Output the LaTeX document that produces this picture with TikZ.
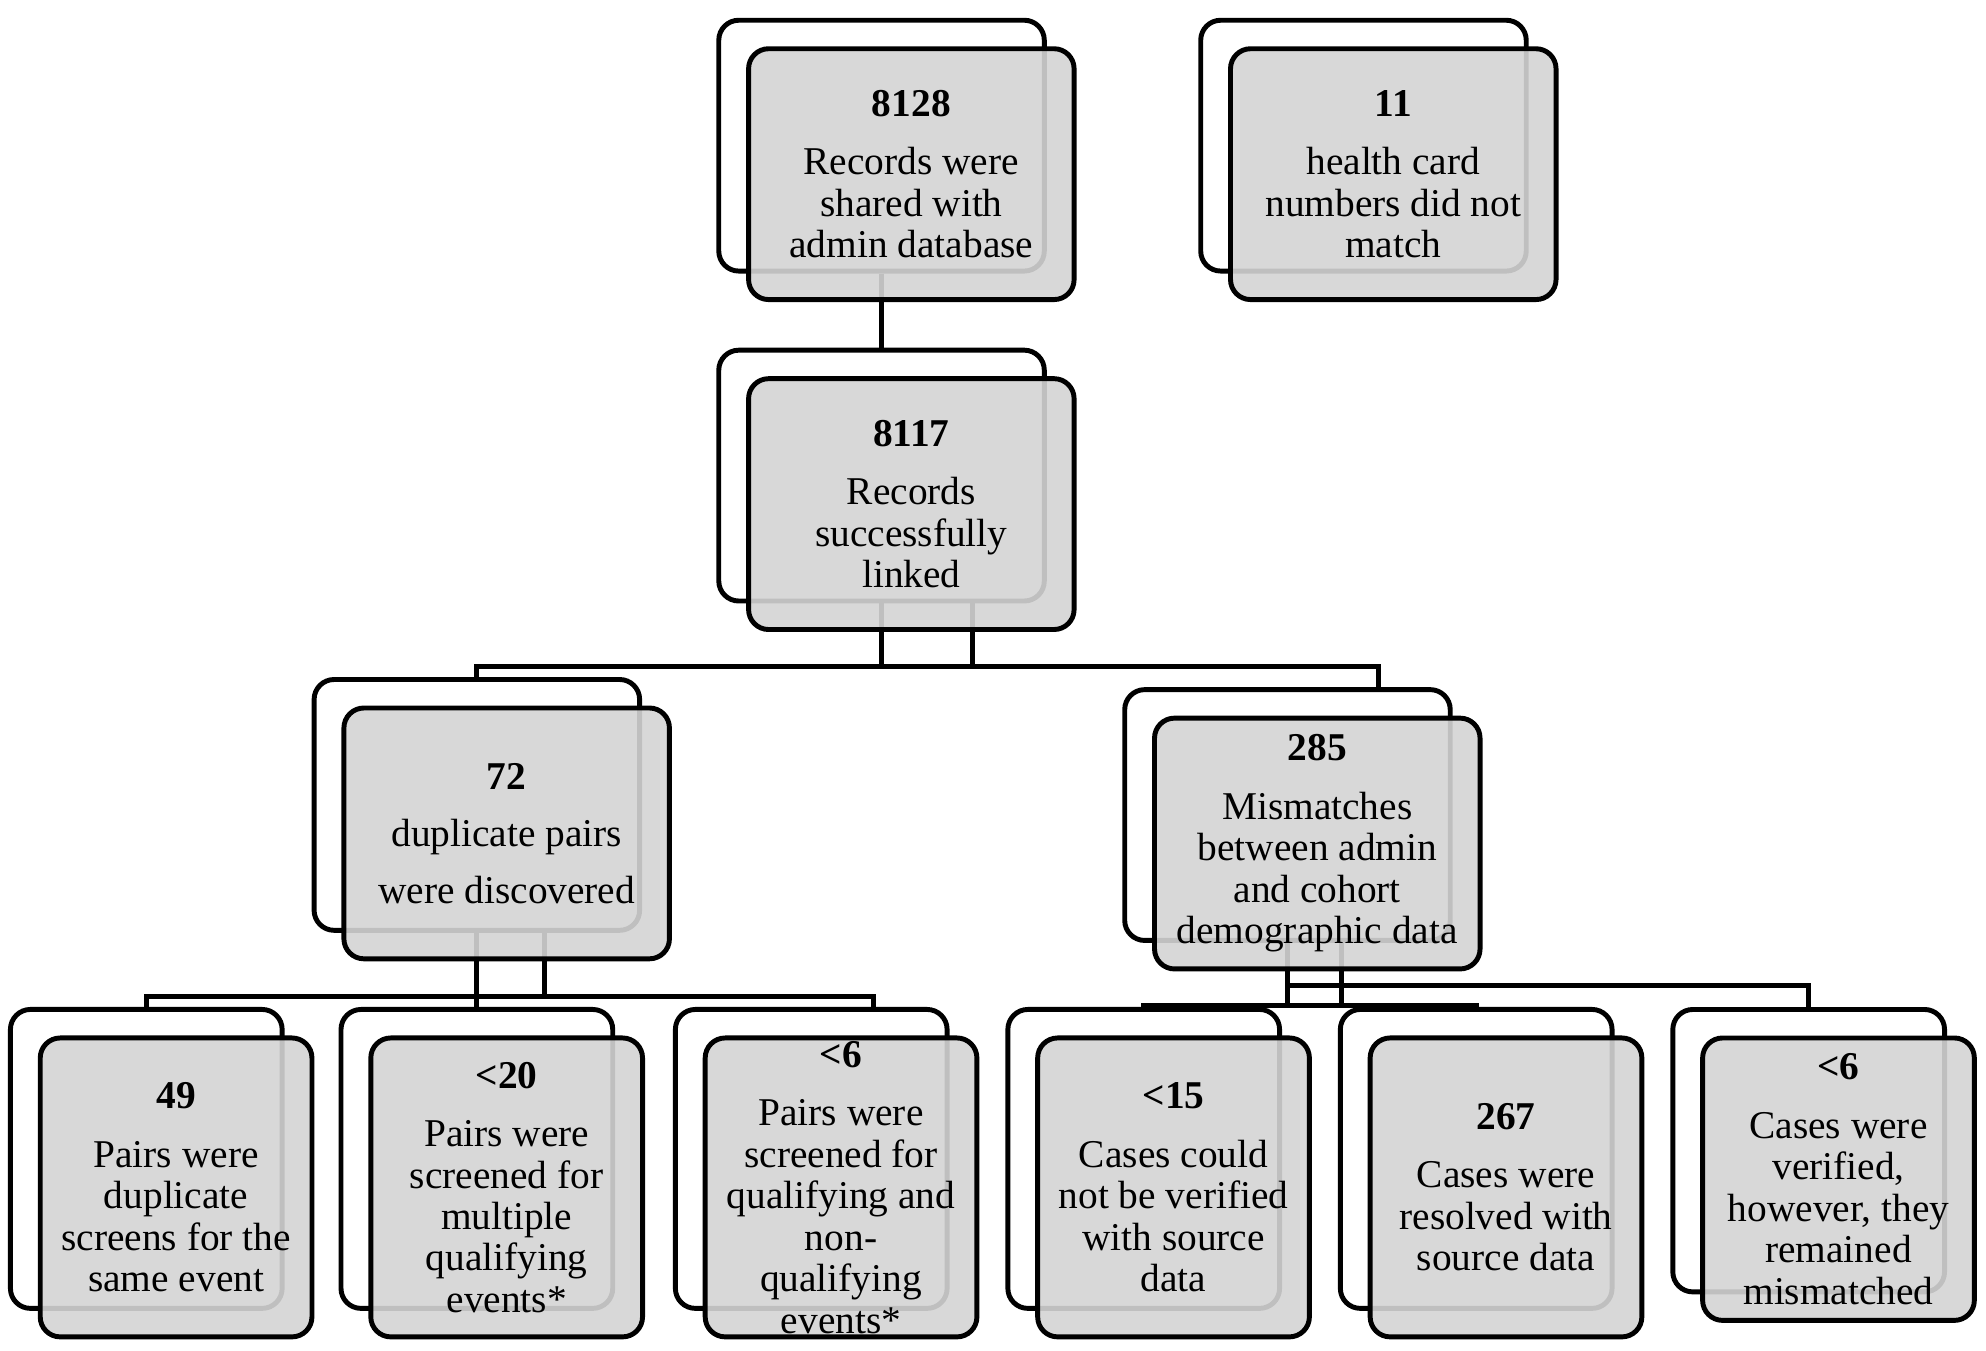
\documentclass[tikz,border=0pt]{standalone}
\usepackage{fontspec}
\setmainfont{Liberation Serif}
\usepackage{tikz}
\usetikzlibrary{calc,positioning}

\begin{document}
\begin{tikzpicture}[
                x=0.012666cm, y=-0.012666cm,
                backbox/.style={draw,fill=white,rounded corners=0.2cm,line width=1.4pt,inner sep=0pt},
                frontbox/.style={draw,fill=black!17,fill opacity=0.9,text opacity=1,rounded corners=0.2cm,
                    line width=1.4pt,inner sep=0pt,align=center,font=\fontsize{11.2}{11.8}\selectfont},
                bigbox/.style={minimum width=3.255cm,minimum height=2.508cm},
                smallbox/.style={minimum width=2.717cm,minimum height=2.989cm},
                link/.style={line width=1.4pt}
            ]
                \useasboundingbox (0,0) rectangle (1568,1066);

                \node (a0) [backbox,bigbox] at (696,115) {};
                \node (h0) [backbox,bigbox] at (1076.5,115) {};
                \node (b0) [backbox,bigbox] at (696,375.5) {};
                \node (c0) [backbox,bigbox] at (376.5,635.5) {};
                \node (d0) [backbox,bigbox] at (1016.5,643.5) {};
                \node (e10) [backbox,smallbox] at (115.5,915) {};
                \node (e20) [backbox,smallbox] at (376.5,915) {};
                \node (e30) [backbox,smallbox] at (640.5,915) {};
                \node (f10) [backbox,smallbox] at (903,915) {};
                \node (f20) [backbox,smallbox] at (1165.5,915) {};
                \node (f30) [backbox,smallbox,minimum height=2.824cm] at (1428,908.5) {};

                \draw[link] (a0.south) -- (b0.north);

                \draw[link] (b0.south) -- ++(0,50) coordinate (bj);
                \draw[link] ($(b0.south)+(72,0)$) -- ++(0,50);
                \draw[link] (c0.north) |- (bj) -| ($(d0.north)+(72,0)$);

                \draw[link] (c0.south) -- ++(0,50.5) coordinate (cj) -- (e20.north);
                \draw[link] ($(c0.south)+(53.5,0)$) -- ++(0,50.5);
                \draw[link] (e10.north) |- (cj) -| ($(e30.north)+(49.5,0)$);

                \draw[link] (d0.south) -- ++(0,49.5) coordinate (dj);
                \draw[link] ($(d0.south)+(43,0)$) -- ++(0,49.5);
                \draw[link] ($(d0.south)+(0,33.5)$) -| (f30.north);
                \draw[link] (f10.north) |- (dj) -| (f20.north);

                \node (a) [frontbox,bigbox,on grid,below right=2.85mm and 2.98mm of a0]
                    {\textbf{8128}\\[4.8pt] Records were\\ shared with\\ admin database};
                \node (h) [frontbox,bigbox,on grid,below right=2.85mm and 2.98mm of h0]
                    {\textbf{11}\\[4.8pt] health card\\ numbers did not\\ match};
                \node (b) [frontbox,bigbox,on grid,below right=2.85mm and 2.98mm of b0]
                    {\textbf{8117}\\[4.8pt] Records\\ successfully\\ linked};
                \node (c) [frontbox,bigbox,on grid,below right=2.85mm and 2.98mm of c0]
                    {\textbf{72}\\[4.4pt] duplicate pairs\\[4.4pt] were discovered};
                \node (d) [frontbox,bigbox,on grid,below right=2.85mm and 2.98mm of d0]
                    {\textbf{285}\\[4.8pt] Mismatches\\ between admin\\ and cohort\\ demographic data};
                \node (e1) [frontbox,smallbox,on grid,below right=2.85mm and 2.98mm of e10]
                    {\textbf{49}\\[4.8pt] Pairs were\\ duplicate\\ screens for the\\ same event};
                \node (e2) [frontbox,smallbox,on grid,below right=2.85mm and 2.98mm of e20]
                    {\textbf{<20}\\[4.8pt] Pairs were\\ screened for\\ multiple\\ qualifying\\ events*};
                \node (e3) [frontbox,smallbox,on grid,below right=2.85mm and 2.98mm of e30]
                    {\textbf{<6}\\[4.8pt] Pairs were\\ screened for\\ qualifying and\\ non-\\ qualifying\\ events*};
                \node (f1) [frontbox,smallbox,on grid,below right=2.85mm and 2.98mm of f10]
                    {\textbf{<15}\\[4.8pt] Cases could\\ not be verified\\ with source\\ data};
                \node (f2) [frontbox,smallbox,on grid,below right=2.85mm and 2.98mm of f20]
                    {\textbf{267}\\[4.8pt] Cases were\\ resolved with\\ source data};
                \node (f3) [frontbox,smallbox,minimum height=2.824cm,on grid,below right=2.85mm and 2.98mm of f30]
                    {\textbf{<6}\\[4.8pt] Cases were\\ verified,\\ however, they\\ remained\\ mismatched};
            \end{tikzpicture}
\end{document}
